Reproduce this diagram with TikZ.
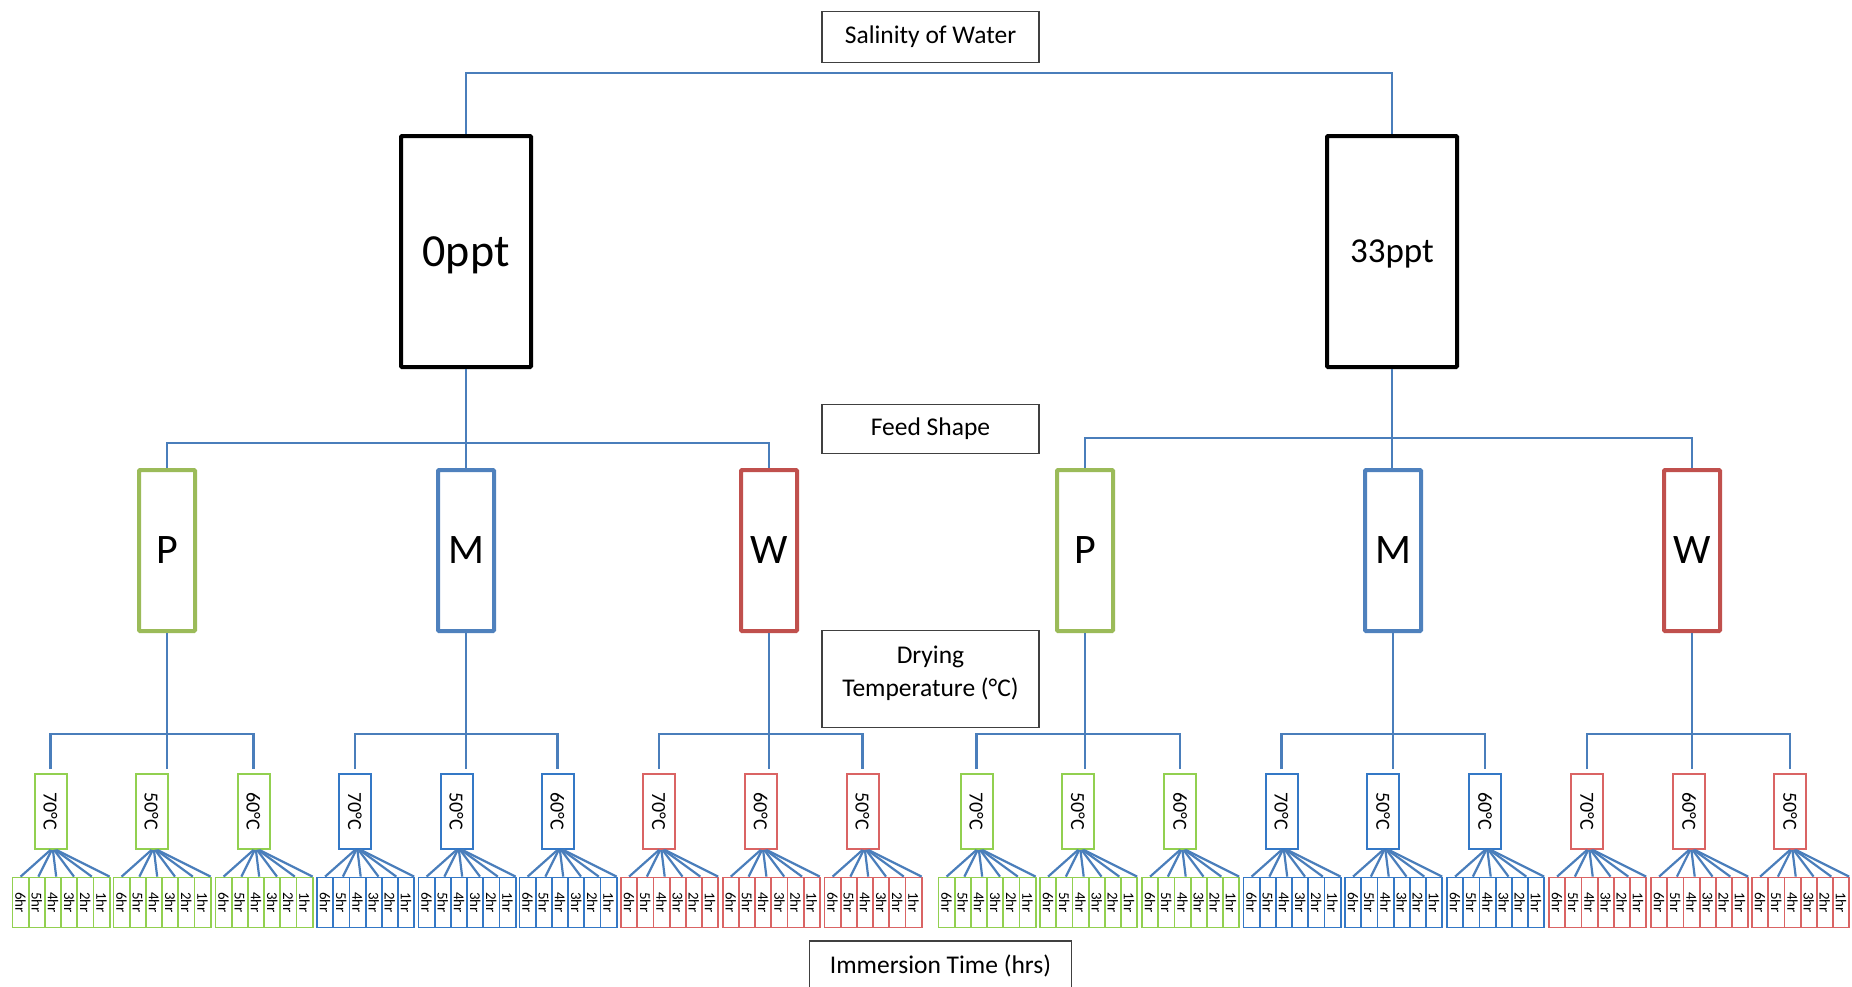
\documentclass[tikz,border=0pt]{standalone}
\usepackage{fontspec}
\setmainfont{Carlito}
\usetikzlibrary{calc}
\definecolor{pgreen}{HTML}{9BBB59}
\definecolor{lgreen}{HTML}{92D050}
\definecolor{pblue}{HTML}{4F81BD}
\definecolor{lblue}{HTML}{3478C6}
\definecolor{pred}{HTML}{C0504D}
\definecolor{lred}{HTML}{DA6464}
\definecolor{lineblue}{HTML}{4A7EBB}
\definecolor{labelgray}{HTML}{404040}
\begin{document}
\begin{tikzpicture}[x=1pt,y=-1pt,
  labelbox/.style={draw=labelgray, line width=1.5pt, minimum width=217pt, inner sep=0pt, align=center, font=\fontsize{25.5}{33}\selectfont},
  labeltext/.style={inner sep=0pt, align=center, font=\fontsize{25.5}{33}\selectfont},
  salbox/.style={draw=black, line width=4pt, minimum width=130pt, minimum height=231pt, inner sep=0pt, rounded corners=1pt, text depth=0pt},
  shapebox/.style={line width=4pt, minimum width=56pt, minimum height=161pt, inner sep=0pt, rounded corners=1pt, font=\fontsize{42}{42}\selectfont},
  tempbox/.style={line width=2pt, minimum width=32pt, minimum height=75pt, inner sep=0pt, fill=white, font=\fontsize{20}{20}\selectfont},
  leafbox/.style={line width=1.8pt, minimum width=16.2pt, minimum height=50pt, inner sep=0pt, font=\fontsize{15}{15}\selectfont},
  conn/.style={draw=lineblue, line width=2.5pt},
  fan/.style={draw=lineblue, line width=2.2pt}
]
\useasboundingbox (0,0) rectangle (1852,986);

% labels
\node[labelbox, minimum height=51pt] (sal) at (930.5,37) {Salinity of Water};
\node[labelbox, minimum height=49pt] (feed) at (930.5,429) {Feed Shape};
\node[labelbox, minimum height=97pt] (dry) at (930.5,679) {};
\node[labeltext] (drytext) at (930.5,673) {Drying\\Temperature (°C)};
\node[labelbox, minimum width=262pt, minimum height=50pt] (imm) at (940.5,966) {Immersion Time (hrs)};

% salinity boxes
\node[salbox, text height=29pt, font=\fontsize{46}{46}\selectfont] (s0) at (466,251.5) {0ppt};
\node[salbox, text height=22pt, font=\fontsize{35}{35}\selectfont] (s33) at (1392,251.5) {33ppt};

% feed shape boxes
\node[shapebox, draw=pgreen] (P1) at (167,550.5) {P};
\node[shapebox, draw=pblue]  (M1) at (466,550.5) {M};
\node[shapebox, draw=pred]   (W1) at (769,550.5) {W};
\node[shapebox, draw=pgreen] (P2) at (1085,550.5) {P};
\node[shapebox, draw=pblue]  (M2) at (1393,550.5) {M};
\node[shapebox, draw=pred]   (W2) at (1692,550.5) {W};

% top connectors
\draw[conn] (s0.north) -- ++(0,-61) -| (s33.north);
\draw[conn] (s0.south) -- (M1.north);
\draw[conn] (P1.north) -- ++(0,-25) -| (W1.north);
\draw[conn] (s33.south) -- (s33.south |- M2.north);
\draw[conn] (P2.north) -- ++(0,-30) -| (W2.north);

% temperature boxes and immersion leaves
\foreach \i/\c/\lab/\col in {
  1/50.5/70/lgreen, 2/151.5/50/lgreen, 3/253.5/60/lgreen,
  4/355/70/lblue, 5/456.5/50/lblue, 6/557.5/60/lblue,
  7/659/70/lred, 8/760.7/60/lred, 9/862.5/50/lred,
  10/976.5/70/lgreen, 11/1078/50/lgreen, 12/1180/60/lgreen,
  13/1281.5/70/lblue, 14/1383/50/lblue, 15/1485/60/lblue,
  16/1587/70/lred, 17/1689/60/lred, 18/1790/50/lred} {
  \node[tempbox, draw=\col] (t\i) at (\c,811.5) {\rotatebox{-90}{\lab°C}};
  \foreach \j in {0,...,5} {
    \pgfmathtruncatemacro\h{6-\j}
    \node[leafbox, draw=\col] (l\i-\j) at ({\c-38+8.1+16.2*\j},902.5) {\rotatebox{-90}{\h hr}};
  }
  \foreach \j in {0,...,5} {
    \draw[fan] ($(t\i.south)+(\j*1.2,0)$) -- ($(l\i-\j.north)+(\j*1.6,0)$);
  }
}

% temperature level connectors
\foreach \s/\a/\b/\cc in {P1/1/2/3, M1/4/5/6, W1/7/8/9, P2/10/11/12, M2/13/14/15, W2/16/17/18} {
  \draw[conn, shorten >=4pt] (\s.south) -- (\s.south |- t\b.north);
  \draw[conn, shorten <=4pt, shorten >=4pt] (t\a.north) -- ++(0,-39) -| (t\cc.north);
}
\end{tikzpicture}
\end{document}
